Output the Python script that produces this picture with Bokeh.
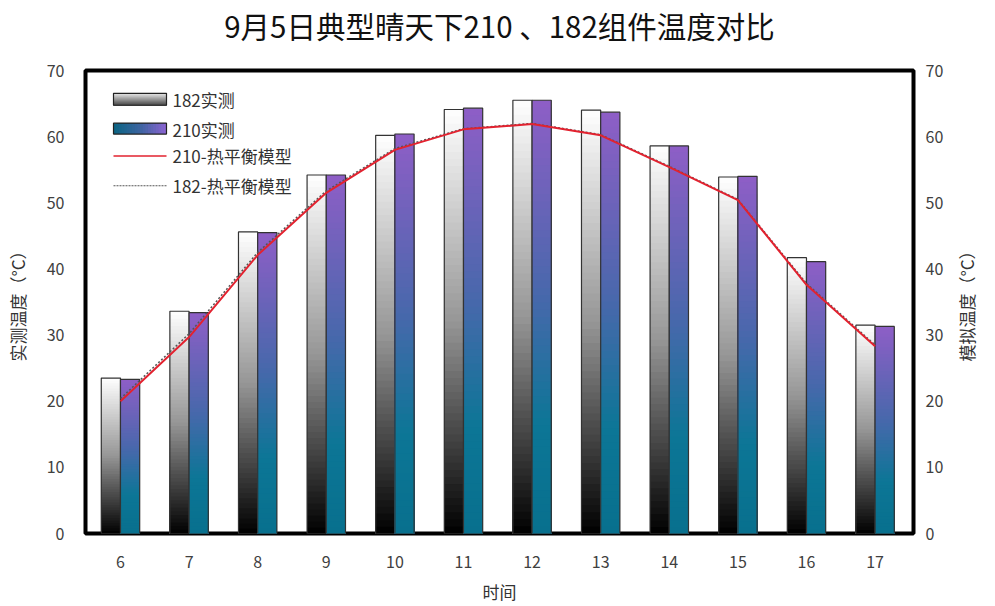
import math
from bokeh.plotting import figure
from bokeh.models import Range1d, LinearAxis, FixedTicker, ColumnDataSource, Title
from bokeh.core.properties import value
from bokeh.embed import file_html
from bokeh.resources import INLINE

# Hourly measurements on 5 September (°C)
hours = [6, 7, 8, 9, 10, 11, 12, 13, 14, 15, 16, 17]
measured_182 = [23.5, 33.6, 45.6, 54.2, 60.2, 64.1, 65.5, 64.0, 58.6, 53.9, 41.7, 31.5]
measured_210 = [23.3, 33.4, 45.5, 54.2, 60.4, 64.3, 65.5, 63.7, 58.6, 54.0, 41.1, 31.3]
model_210 = [20.0, 29.7, 42.1, 51.5, 58.0, 61.1, 61.9, 60.2, 55.4, 50.4, 37.6, 28.3]
model_182 = [20.4, 30.2, 42.5, 51.8, 58.2, 61.2, 62.0, 60.3, 55.5, 50.5, 37.8, 28.5]
y_ticks = [0, 10, 20, 30, 40, 50, 60, 70]

FONT = "Noto Sans CJK SC"
BAR_W = 0.28
N_SLICES = 60

# gradient stops, top of bar (t=0) to bottom (t=1)
grey_stops = [(0.0, (255, 255, 255)), (0.5, (150, 150, 150)), (1.0, (0, 0, 0))]
blue_stops = [(0.0, (142, 94, 198)), (0.45, (72, 104, 172)), (0.75, (12, 118, 150)), (1.0, (8, 112, 142))]


def interp(stops, t):
    for (t0, c0), (t1, c1) in zip(stops[:-1], stops[1:]):
        if t <= t1:
            f = (t - t0) / (t1 - t0) if t1 > t0 else 0
            return "#%02x%02x%02x" % tuple(int(round(a + (b - a) * f)) for a, b in zip(c0, c1))
    return "#%02x%02x%02x" % stops[-1][1]


def gradient_bars(values, offset, stops):
    # each bar is cut into thin horizontal slices; every slice reaches down to
    # the bar base so the slices overlap and no seams show
    left, right, bottom, top, color = [], [], [], [], []
    for h, v in zip(hours, values):
        for i in range(N_SLICES):
            t = (i + 0.5) / N_SLICES
            left.append(h + offset - BAR_W / 2)
            right.append(h + offset + BAR_W / 2)
            top.append(v * (1 - i / N_SLICES))
            bottom.append(0)
            color.append(interp(stops, t))
    return ColumnDataSource(dict(left=left, right=right, bottom=bottom, top=top, color=color))


p = figure(width=995, height=606, output_backend="svg", toolbar_location=None,
           x_range=Range1d(5.49, 17.56), y_range=Range1d(0, 70),
           min_border_left=85, min_border_right=82, min_border_top=70, min_border_bottom=70)

# blank spacer between the frame and the chart title
p.add_layout(Title(text=" ", text_font_size="21px", standoff=0), "above")

p.title.text = "9月5日典型晴天下210 、182组件温度对比"
p.title.align = "center"
p.title.text_font = FONT
p.title.text_font_size = "29.5px"
p.title.text_font_style = "normal"
p.title.text_color = "#111111"
p.title.standoff = 0

p.outline_line_color = "black"
p.outline_line_width = 4
p.xgrid.grid_line_color = None
p.ygrid.grid_line_color = None
p.background_fill_color = "white"
p.border_fill_color = "white"

# bars with vertical gradient
for vals, off, stops in [(measured_182, -BAR_W / 2, grey_stops), (measured_210, BAR_W / 2, blue_stops)]:
    src = gradient_bars(vals, off, stops)
    p.quad(left="left", right="right", bottom="bottom", top="top", fill_color="color",
           line_color=None, source=src)
    p.quad(left=[h + off - BAR_W / 2 for h in hours], right=[h + off + BAR_W / 2 for h in hours],
           bottom=0, top=vals, fill_color=None, line_color="#333333", line_width=1.2)

# model curves
p.line(hours, model_182, line_color="#555555", line_width=1.5, line_dash="2 2")
p.line(hours, model_210, line_color="#e2222f", line_width=2)

# axes
p.xaxis.ticker = FixedTicker(ticks=hours)
p.yaxis.ticker = FixedTicker(ticks=y_ticks)
for ax in [p.xaxis[0], p.yaxis[0]]:
    ax.axis_line_color = None
    ax.major_tick_line_color = None
    ax.minor_tick_line_color = None
    ax.major_label_text_font = FONT
    ax.major_label_text_font_size = "16px"
    ax.major_label_text_color = "#404040"
    ax.axis_label_text_font = FONT
    ax.axis_label_text_font_size = "17px"
    ax.axis_label_text_font_style = "normal"
    ax.axis_label_text_color = "#333333"
p.xaxis.axis_label = "时间"
p.xaxis.major_label_standoff = 16
p.xaxis.axis_label_standoff = 8
p.yaxis.axis_label = "实测温度（°C）"
p.yaxis.major_label_standoff = 15
p.yaxis.axis_label_standoff = 14

# right-hand scale for the simulated temperatures
p.extra_y_ranges = {"sim": Range1d(0, 70)}
right_axis = LinearAxis(y_range_name="sim", ticker=FixedTicker(ticks=y_ticks))
right_axis.axis_line_color = None
right_axis.major_tick_line_color = None
right_axis.minor_tick_line_color = None
right_axis.major_tick_out = 0
right_axis.major_label_text_font = FONT
right_axis.major_label_text_font_size = "16px"
right_axis.major_label_text_color = "#404040"
right_axis.major_label_standoff = 12
p.add_layout(right_axis, "right")

# its title, reading upward: a single rotated tick label that starts low enough to sit centred
RIGHT_TITLE_AT = 26
right_title = LinearAxis(y_range_name="sim", ticker=FixedTicker(ticks=[RIGHT_TITLE_AT]),
                         major_label_overrides={RIGHT_TITLE_AT: "模拟温度（°C）"})
right_title.axis_line_color = None
right_title.major_tick_line_color = None
right_title.minor_tick_line_color = None
right_title.major_tick_out = 0
right_title.major_tick_in = 0
right_title.major_label_standoff = 20
right_title.major_label_orientation = math.pi / 2
right_title.major_label_text_font = FONT
right_title.major_label_text_font_size = "17px"
right_title.major_label_text_color = "#333333"
p.add_layout(right_title, "right")

# frame pixel units (origin at frame bottom-left) for the legend
p.extra_x_ranges = {"px": Range1d(0, 828)}
p.extra_y_ranges["pxy"] = Range1d(0, 466)

sw_l, sw_r = 28, 81
# 182 swatch: vertical grey gradient
n = 12
p.quad(left=[sw_l] * n, right=[sw_r] * n,
       top=[443 - 12 * i / n for i in range(n)], bottom=[431] * n,
       fill_color=[interp([(0, (235, 235, 235)), (1, (70, 70, 70))], (i + 0.5) / n) for i in range(n)],
       line_color=None, x_range_name="px", y_range_name="pxy")
p.quad(left=[sw_l], right=[sw_r], top=[443], bottom=[431], fill_color=None, line_color="#222222",
       line_width=1.2, x_range_name="px", y_range_name="pxy")
# 210 swatch: horizontal teal-to-purple gradient
n = 20
p.quad(left=[sw_l + (sw_r - sw_l) * i / n for i in range(n)],
       right=[sw_r] * n,
       top=[413] * n, bottom=[402] * n,
       fill_color=[interp([(0, (10, 100, 130)), (0.5, (60, 100, 160)), (1, (140, 100, 210))], (i + 0.5) / n)
                   for i in range(n)],
       line_color=None, x_range_name="px", y_range_name="pxy")
p.quad(left=[sw_l], right=[sw_r], top=[413], bottom=[402], fill_color=None, line_color="#222222",
       line_width=1.2, x_range_name="px", y_range_name="pxy")
p.line([sw_l, sw_r], [380, 380], line_color="#e2222f", line_width=1.5, x_range_name="px", y_range_name="pxy")
p.line([sw_l, sw_r], [350, 350], line_color="#555555", line_width=1.2, line_dash="2 1",
       x_range_name="px", y_range_name="pxy")
p.text(x=[87] * 4, y=[437, 407, 380, 350], text=["182实测", "210实测", "210-热平衡模型", "182-热平衡模型"],
       text_font=value(FONT), text_font_size="17px", text_color="#333333", text_baseline="middle",
       x_range_name="px", y_range_name="pxy")

open("out.html", "w").write(file_html(p, INLINE))
